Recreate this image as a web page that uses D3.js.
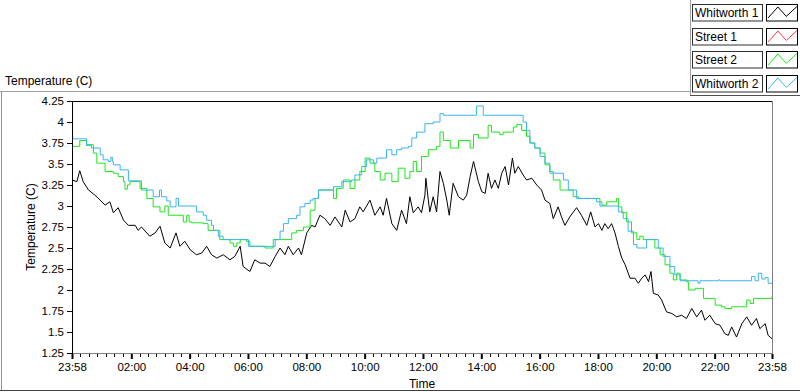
<!DOCTYPE html>
<html>
<head>
<meta charset="utf-8">
<script src="https://cdn.jsdelivr.net/npm/d3@7/dist/d3.min.js"></script>
<style>
  html, body { margin: 0; padding: 0; background: #fff; }
  svg { display: block; font-family: "Liberation Sans", Arial, sans-serif; }
</style>
</head>
<body>
<svg id="chart" width="800" height="392"></svg>
<script>
// ---- Data (minutes after 23:58 start, temperature in C) ----
const seriesNames = ["Whitworth 1", "Street 1", "Street 2", "Whitworth 2"];
const seriesColors = ["#000000", "#ff3c3c", "#1ee61e", "#3cb4f0"];

const whitworth1 = [
  [0,3.31],[10,3.29],[16,3.42],[23,3.29],[34,3.19],[47,3.13],[58,3.07],[68,3.01],[78,3.05],[85,2.92],
  [95,2.98],[106,2.83],[116,2.77],[130,2.77],[136,2.71],[143,2.75],[160,2.64],[171,2.68],[181,2.76],[191,2.56],
  [202,2.50],[214,2.68],[222,2.52],[232,2.58],[243,2.48],[256,2.42],[267,2.44],[277,2.52],[287,2.42],[298,2.38],
  [311,2.42],[325,2.36],[335,2.40],[346,2.52],[352,2.28],[366,2.22],[376,2.36],[387,2.32],[397,2.32],[407,2.28],
  [418,2.40],[428,2.50],[438,2.42],[445,2.52],[455,2.42],[466,2.50],[472,2.42],[483,2.68],[493,2.77],[500,2.75],
  [510,2.89],[520,2.85],[531,2.77],[541,2.87],[555,2.75],[562,2.95],[572,2.81],[582,2.85],[592,2.99],[599,2.93],
  [613,3.07],[623,2.89],[634,2.99],[640,2.89],[647,3.09],[658,2.79],[668,2.71],[678,2.95],[688,2.79],[695,3.11],
  [702,2.92],[712,2.99],[719,2.92],[726,3.13],[728,3.33],[733,3.07],[736,2.93],[743,3.11],[750,2.93],[757,3.41],
  [764,3.27],[771,3.07],[776,2.89],[784,3.27],[795,3.11],[805,3.07],[812,3.13],[819,3.35],[826,3.53],[836,3.29],
  [843,3.17],[850,3.15],[856,3.39],[863,3.21],[870,3.31],[877,3.21],[884,3.39],[891,3.47],[898,3.25],[906,3.57],
  [911,3.39],[918,3.47],[928,3.37],[935,3.31],[946,3.33],[956,3.25],[966,3.19],[973,3.07],[983,3.03],[990,2.85],
  [1000,2.99],[1007,2.87],[1014,2.77],[1024,2.87],[1038,2.98],[1048,2.89],[1059,2.77],[1067,2.93],[1076,2.75],[1083,2.79],
  [1090,2.71],[1096,2.79],[1103,2.73],[1110,2.79],[1117,2.68],[1124,2.52],[1131,2.38],[1138,2.30],[1148,2.14],[1158,2.14],
  [1165,2.08],[1172,2.14],[1179,2.18],[1186,2.10],[1191,2.22],[1196,1.96],[1206,1.94],[1213,1.88],[1223,1.74],[1234,1.72],
  [1244,1.68],[1254,1.70],[1264,1.66],[1275,1.78],[1285,1.68],[1295,1.76],[1302,1.64],[1312,1.70],[1323,1.60],[1333,1.58],
  [1343,1.48],[1350,1.46],[1357,1.56],[1367,1.44],[1378,1.60],[1388,1.68],[1398,1.58],[1408,1.66],[1415,1.54],[1426,1.60],
  [1432,1.46],[1440,1.42]
];

const street1 = [];

const street2 = [
  [0,3.71],[16,3.78],[30,3.73],[44,3.63],[51,3.51],[68,3.41],[85,3.39],[95,3.35],[106,3.29],[109,3.20],
  [114,3.25],[119,3.29],[140,3.21],[154,3.09],[167,2.99],[181,2.93],[191,3.00],[198,2.89],[229,2.81],[236,2.89],
  [241,2.81],[246,2.80],[270,2.79],[280,2.71],[304,2.60],[325,2.56],[332,2.52],[339,2.56],[346,2.60],[359,2.58],
  [366,2.52],[397,2.50],[414,2.60],[452,2.68],[462,2.71],[476,2.75],[490,2.95],[500,3.09],[507,3.19],[538,3.09],
  [544,3.21],[558,3.31],[572,3.21],[582,3.31],[592,3.41],[603,3.57],[613,3.51],[623,3.41],[634,3.31],[644,3.39],
  [658,3.29],[671,3.45],[685,3.33],[695,3.41],[702,3.53],[709,3.41],[719,3.59],[733,3.67],[750,3.71],[757,3.88],
  [764,3.78],[778,3.69],[795,3.78],[819,3.69],[826,3.85],[836,3.81],[856,3.96],[863,3.88],[880,3.85],[887,3.88],
  [908,3.94],[915,3.97],[925,3.90],[935,3.83],[942,3.75],[952,3.69],[963,3.63],[973,3.49],[983,3.41],[990,3.31],
  [1004,3.19],[1031,3.11],[1042,3.09],[1086,3.05],[1090,3.01],[1100,3.05],[1120,3.09],[1124,2.99],[1131,2.92],[1141,2.81],
  [1151,2.68],[1162,2.60],[1168,2.64],[1175,2.60],[1199,2.50],[1210,2.42],[1220,2.30],[1230,2.20],[1237,2.12],[1244,2.20],
  [1251,2.12],[1264,2.10],[1268,2.00],[1282,2.02],[1299,1.90],[1323,1.82],[1336,1.80],[1343,1.78],[1357,1.80],[1388,1.88],
  [1395,1.84],[1402,1.90],[1440,1.92]
];

const whitworth2 = [
  [0,3.81],[3,3.80],[30,3.72],[40,3.69],[58,3.61],[64,3.55],[75,3.53],[80,3.58],[83,3.53],[85,3.49],
  [99,3.43],[116,3.30],[143,3.19],[167,3.11],[180,3.19],[184,3.11],[195,3.06],[202,2.99],[214,3.09],[219,3.00],
  [256,2.93],[270,2.89],[277,2.83],[287,2.77],[291,2.71],[301,2.64],[311,2.60],[363,2.52],[418,2.60],[428,2.70],
  [435,2.79],[445,2.85],[462,2.89],[469,2.99],[479,3.03],[490,3.07],[496,3.09],[507,3.19],[538,3.23],[555,3.29],
  [575,3.31],[582,3.37],[596,3.47],[606,3.55],[620,3.51],[627,3.57],[647,3.67],[658,3.61],[668,3.67],[678,3.69],
  [692,3.71],[699,3.81],[709,3.88],[726,3.98],[743,4.00],[757,4.10],[764,4.08],[832,4.19],[846,4.08],[928,4.00],
  [935,3.90],[942,3.75],[952,3.69],[963,3.59],[973,3.51],[983,3.39],[1011,3.31],[1021,3.19],[1038,3.09],[1079,3.05],
  [1086,3.00],[1124,2.93],[1134,2.85],[1144,2.70],[1155,2.54],[1162,2.50],[1182,2.60],[1206,2.50],[1216,2.40],[1230,2.28],
  [1240,2.18],[1251,2.11],[1288,2.08],[1292,2.11],[1330,2.12],[1333,2.11],[1398,2.16],[1405,2.11],[1412,2.20],[1419,2.13],
  [1426,2.15],[1432,2.08],[1440,2.07]
];

const yTickValues = [1.25, 1.5, 1.75, 2, 2.25, 2.5, 2.75, 3, 3.25, 3.5, 3.75, 4, 4.25];
const yTickLabels = ["1.25","1.5","1.75","2","2.25","2.5","2.75","3","3.25","3.5","3.75","4","4.25"];
const xTickValues = [0, 122, 242, 362, 482, 602, 722, 842, 962, 1082, 1202, 1322, 1440];
const xTickLabels = ["23:58","02:00","04:00","06:00","08:00","10:00","12:00","14:00","16:00","18:00","20:00","22:00","23:58"];

// ---- Drawing ----
const svg = d3.select("#chart");
const L = 72, R = 772, T = 101, B = 353;

const x = d3.scaleLinear().domain([0, 1440]).range([L, R]);
const y = d3.scaleLinear().domain([1.25, 4.25]).range([B, T]);

// panel frame
svg.append("line").attr("x1", 0).attr("x2", 690).attr("y1", 91.5).attr("y2", 91.5).attr("stroke", "#a0a0a0");
svg.append("line").attr("x1", 1.5).attr("x2", 1.5).attr("y1", 91).attr("y2", 391).attr("stroke", "#909090");
svg.append("line").attr("x1", 0).attr("x2", 800).attr("y1", 390.5).attr("y2", 390.5).attr("stroke", "#404040");
svg.append("line").attr("x1", 690.5).attr("x2", 690.5).attr("y1", 0).attr("y2", 95).attr("stroke", "#a0a0a0");
svg.append("line").attr("x1", 690).attr("x2", 800).attr("y1", 95.5).attr("y2", 95.5).attr("stroke", "#505050");

// title
svg.append("text").attr("x", 5).attr("y", 85).attr("font-size", "12px").attr("fill", "#000")
  .text("Temperature (C)");

// plot box lines
svg.append("line").attr("x1", L).attr("x2", R).attr("y1", T + 0.5).attr("y2", T + 0.5).attr("stroke", "#000");
svg.append("line").attr("x1", R + 0.5).attr("x2", R + 0.5).attr("y1", T).attr("y2", B).attr("stroke", "#808080");
svg.append("line").attr("x1", L).attr("x2", R + 1).attr("y1", B + 0.5).attr("y2", B + 0.5).attr("stroke", "#808080");
svg.append("line").attr("x1", L + 0.5).attr("x2", L + 0.5).attr("y1", T).attr("y2", B + 4).attr("stroke", "#000");

// y axis
const yAxis = d3.axisLeft(y).tickValues(yTickValues)
  .tickFormat((d, i) => yTickLabels[i]).tickSize(5).tickPadding(3);
const gy = svg.append("g").attr("transform", `translate(${L},0)`).call(yAxis);
gy.select(".domain").remove();
gy.selectAll("text").attr("font-size", "11.5px").attr("fill", "#000").style("font-family", "Liberation Sans, Arial, sans-serif");
gy.selectAll("line").attr("stroke", "#000").attr("shape-rendering", "crispEdges");

// x axis majors
const xAxis = d3.axisBottom(x).tickValues(xTickValues)
  .tickFormat((d, i) => xTickLabels[i]).tickSize(5).tickPadding(4);
const gx = svg.append("g").attr("transform", `translate(0,${B + 1})`).call(xAxis);
gx.select(".domain").remove();
gx.selectAll("text").attr("font-size", "11.5px").attr("fill", "#000").style("font-family", "Liberation Sans, Arial, sans-serif");
gx.selectAll("line").attr("stroke", "#000").attr("stroke-width", 2);

// x minor ticks: 6 between each pair of majors
const minorTicks = [];
for (let i = 0; i < xTickValues.length - 1; i++) {
  const a = xTickValues[i], b = xTickValues[i + 1];
  for (let k = 1; k <= 6; k++) minorTicks.push(a + (b - a) * k / 7);
}
svg.append("g").selectAll("line").data(minorTicks).join("line")
  .attr("x1", d => Math.round(x(d)) + 0.5).attr("x2", d => Math.round(x(d)) + 0.5)
  .attr("y1", B + 1).attr("y2", B + 4).attr("stroke", "#000");

// axis titles
svg.append("text").attr("transform", `translate(35,${(T + B) / 2}) rotate(-90)`)
  .attr("text-anchor", "middle").attr("font-size", "12px").attr("fill", "#000")
  .text("Temperature (C)");
svg.append("text").attr("x", (L + R) / 2).attr("y", 388).attr("text-anchor", "middle")
  .attr("font-size", "12px").attr("fill", "#000").text("Time");

// series
svg.append("clipPath").attr("id", "plotclip").append("rect")
  .attr("x", L + 1).attr("y", T + 1).attr("width", R - L - 1).attr("height", B - T);
const plot = svg.append("g").attr("clip-path", "url(#plotclip)");

const lineLinear = d3.line().x(d => x(d[0])).y(d => y(d[1]));
const lineStep = d3.line().x(d => x(d[0])).y(d => y(d[1])).curve(d3.curveStepAfter);

const allSeries = [
  { data: whitworth1, gen: lineLinear },
  { data: street1, gen: lineLinear },
  { data: street2, gen: lineStep },
  { data: whitworth2, gen: lineStep }
];
allSeries.forEach((s, i) => {
  if (!s.data.length) return;
  plot.append("path").attr("d", s.gen(s.data)).attr("fill", "none")
    .attr("stroke", seriesColors[i]).attr("stroke-width", 1)
    .attr("stroke-linejoin", "round");
});

// legend
const legend = svg.append("g");
seriesNames.forEach((name, i) => {
  const top = 4 + i * 23.7;
  const g = legend.append("g").attr("transform", `translate(0,${Math.round(top)})`);
  g.append("rect").attr("x", 692.5).attr("y", 0.5).attr("width", 70).attr("height", 16.5)
    .attr("fill", "#fff").attr("stroke", "#303030");
  g.append("text").attr("x", 695).attr("y", 13).attr("font-size", "12px").attr("fill", "#000").text(name);
  g.append("rect").attr("x", 766.5).attr("y", 0.5).attr("width", 31).attr("height", 16.5)
    .attr("fill", "#fff").attr("stroke", "#000");
  const sx = d3.scaleLinear().domain([0, 1]).range([768, 797]);
  const sy = d3.scaleLinear().domain([0, 1]).range([14, 3]);
  const zig = [[0, 0], [0.34, 1], [0.63, 0.15], [1, 1.05]];
  g.append("path").attr("d", d3.line().x(d => sx(d[0])).y(d => sy(d[1]))(zig))
    .attr("fill", "none").attr("stroke", seriesColors[i]).attr("stroke-width", 1);
});
</script>
</body>
</html>
